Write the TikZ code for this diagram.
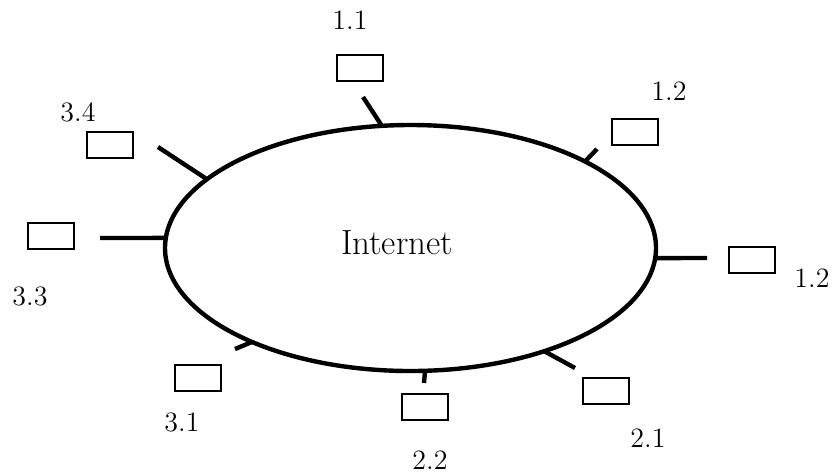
\documentclass[tikz,border=0pt]{standalone}
\usetikzlibrary{shapes.geometric,calc}
\begin{document}
\begin{tikzpicture}[x=0.5pt,y=-0.5pt,
  host/.style={draw,line width=1.4pt,minimum width=23pt,minimum height=13pt,inner sep=0pt},
  lab/.style={font=\fontsize{14}{16}\selectfont,inner sep=0pt},
  link/.style={line width=2.2pt}]
\useasboundingbox (0,0) rectangle (835,473);
\node[ellipse,draw,line width=2.2pt,minimum width=245.5pt,minimum height=123pt,inner sep=0pt] (net) at (410.5,248) {};
\node[font=\fontsize{17.5}{19}\selectfont,inner sep=0pt,anchor=base] (lbl) at (397,254) {Internet};
% points on the ellipse
\foreach \n/\t in {a/263.3, b/315.3, c/4.7, d/57, e/86.6, f/130.2, g/184.7, h/214}
  \coordinate (e\n) at ($(410.5,248)+({245.5*cos(\t)},{123*sin(\t)})$);
% free ends
\coordinate (fa) at (363,97);
\coordinate (fb) at (597,149);
\coordinate (fc) at (707,258);
\coordinate (fd) at (575,368);
\coordinate (fe) at (424,383);
\coordinate (ff) at (235,349);
\coordinate (fg) at (100,238);
\coordinate (fh) at (158,147);
\foreach \n in {a,b,c,d,e,f,g,h} \draw[link] (e\n) -- (f\n);
% hosts
\node[host] (h11) at (360,68) {};
\node[host] (h12a) at (635,132) {};
\node[host] (h12b) at (752,260) {};
\node[host] (h21) at (606,391) {};
\node[host] (h22) at (425,407) {};
\node[host] (h31) at (198,378) {};
\node[host] (h33) at (51,236) {};
\node[host] (h34) at (110,145) {};
% labels
\node[lab] (l11) at (350,20) {1.1};
\node[lab] (l12a) at (669,91) {1.2};
\node[lab] (l12b) at (812,278) {1.2};
\node[lab] (l21) at (648,438) {2.1};
\node[lab] (l22) at (430,460) {2.2};
\node[lab] (l31) at (182,422) {3.1};
\node[lab] (l33) at (30,296) {3.3};
\node[lab] (l34) at (78,112) {3.4};
\end{tikzpicture}
\end{document}
